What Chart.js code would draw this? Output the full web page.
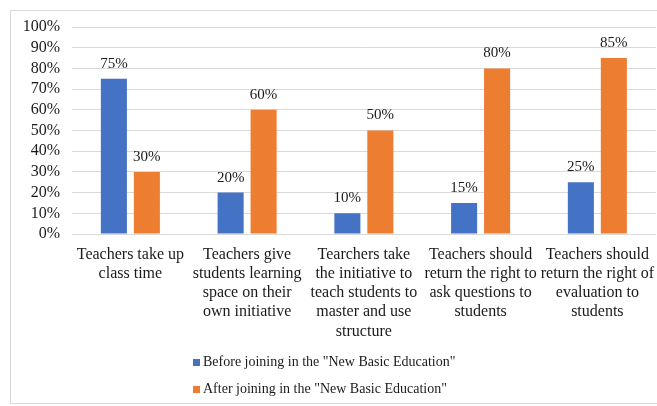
<!DOCTYPE html>
<html>
<head>
<meta charset="utf-8">
<script src="https://cdn.jsdelivr.net/npm/chart.js@4.4.1/dist/chart.umd.min.js"></script>
<style>
    html, body { margin: 0; padding: 0; background: #fff; }
    #wrap { position: relative; width: 657px; height: 406px; overflow: hidden; }
    #frame { position: absolute; left: 10px; top: 10px; width: 660px; height: 392px; border: 1px solid #d9d9d9; pointer-events: none; }
    canvas { position: absolute; left: 0; top: 0; }
</style>
</head>
<body>
<div id="wrap">
    <canvas id="barchart-teachers" width="657" height="406"></canvas>
    <div id="frame"></div>
</div>
<script>
// Categorias (cada rótulo quebrado em linhas)
const categories = [
    ['Teachers take up', 'class time'],
    ['Teachers give', 'students learning', 'space on their', 'own initiative'],
    ['Tearchers take', 'the initiative to', 'teach students to', 'master and use', 'structure'],
    ['Teachers should', 'return the right to', 'ask questions to', 'students'],
    ['Teachers should', 'return the right of', 'evaluation to', 'students']
];

const seriesNames = [
    'Before joining in the "New Basic Education"',
    'After joining in the "New Basic Education"'
];

// Valores em %
const beforeValues = [75, 20, 10, 15, 25];
const afterValues = [30, 60, 50, 80, 85];

const yTicks = [0, 10, 20, 30, 40, 50, 60, 70, 80, 90, 100];

const FONT = "'Liberation Serif', 'Times New Roman', serif";
const TEXT_COLOR = '#1a1a1a';

document.addEventListener('DOMContentLoaded', function () {
    initializeChart();
});

// Rótulos de valor acima de cada barra
const valueLabelsPlugin = {
    id: 'valueLabels',
    afterDatasetsDraw(chart) {
        const ctx = chart.ctx;
        ctx.save();
        ctx.font = '15px ' + FONT;
        ctx.fillStyle = TEXT_COLOR;
        ctx.textAlign = 'center';
        ctx.textBaseline = 'middle';
        chart.data.datasets.forEach((ds, i) => {
            chart.getDatasetMeta(i).data.forEach((bar, j) => {
                ctx.fillText(ds.data[j] + '%', bar.x, bar.y - 15);
            });
        });
        ctx.restore();
    }
};

// Legenda vertical embaixo do gráfico
const stackedLegendPlugin = {
    id: 'stackedLegend',
    afterDraw(chart) {
        const ctx = chart.ctx;
        const x = 193;
        let y = chart.chartArea.bottom + 128;
        ctx.save();
        ctx.font = '14px ' + FONT;
        ctx.textBaseline = 'middle';
        ctx.textAlign = 'left';
        chart.data.datasets.forEach(ds => {
            ctx.fillStyle = ds.backgroundColor;
            ctx.fillRect(x, y - 3, 7, 7);
            ctx.fillStyle = TEXT_COLOR;
            ctx.fillText(ds.label, x + 10, y);
            y += 27;
        });
        ctx.restore();
    }
};

function initializeChart() {
    const ctx = document.getElementById('barchart-teachers').getContext('2d');
    window.chartInstanceTeachers = new Chart(ctx, {
        type: 'bar',
        data: {
            labels: categories,
            datasets: [{
                label: seriesNames[0],
                data: beforeValues,
                backgroundColor: '#4472C4',
                categoryPercentage: 0.565,
                barPercentage: 0.79
            }, {
                label: seriesNames[1],
                data: afterValues,
                backgroundColor: '#ED7D31',
                categoryPercentage: 0.565,
                barPercentage: 0.79
            }]
        },
        options: {
            responsive: false,
            animation: false,
            layout: {
                padding: { top: 27, right: 0, bottom: 0, left: 0 }
            },
            scales: {
                x: {
                    grid: { display: false },
                    border: { display: false },
                    ticks: {
                        color: TEXT_COLOR,
                        font: { family: FONT, size: 16, lineHeight: 1.2 },
                        maxRotation: 0,
                        autoSkip: false,
                        padding: 3
                    },
                    afterFit: scale => { scale.height = 172; }
                },
                y: {
                    min: 0,
                    max: 100,
                    afterBuildTicks: scale => {
                        scale.ticks = yTicks.map(v => ({ value: v }));
                    },
                    grid: { color: '#d9d9d9', lineWidth: 1, drawTicks: false },
                    border: { display: false },
                    ticks: {
                        color: TEXT_COLOR,
                        font: { family: FONT, size: 16 },
                        padding: 12,
                        autoSkip: false,
                        callback: v => v + '%'
                    },
                    afterFit: scale => { scale.width = 72; }
                }
            },
            plugins: {
                legend: { display: false },
                tooltip: { enabled: false }
            }
        },
        plugins: [valueLabelsPlugin, stackedLegendPlugin]
    });
}
</script>
</body>
</html>
